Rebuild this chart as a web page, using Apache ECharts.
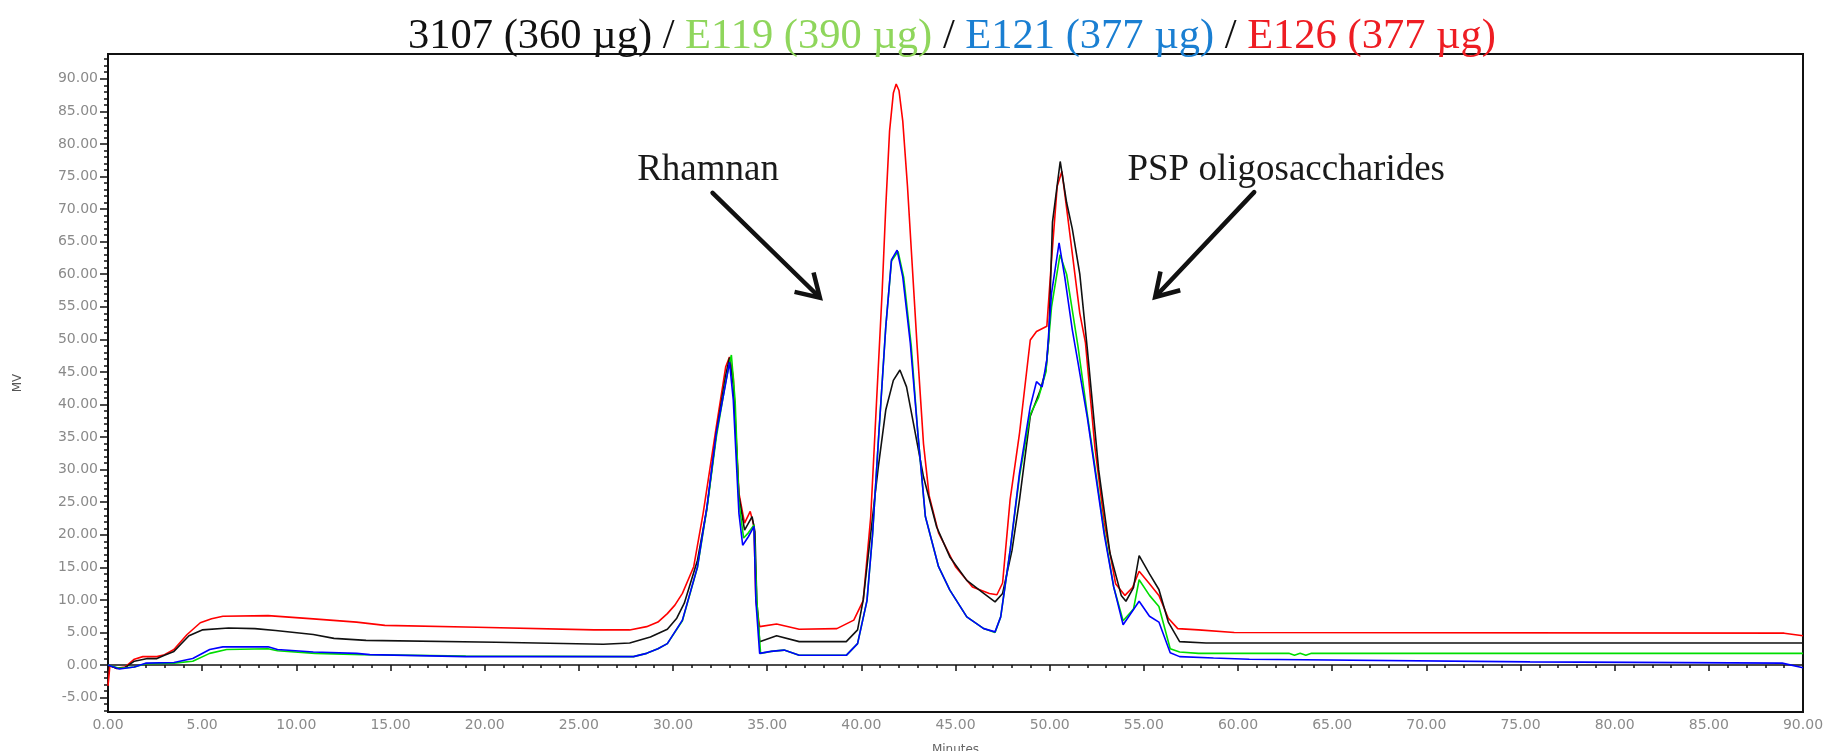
<!DOCTYPE html>
<html>
<head>
<meta charset="utf-8">
<script src="https://cdn.jsdelivr.net/npm/echarts@6/dist/echarts.min.js"></script>
<style>
    html, body { margin: 0; padding: 0; background: #fff; }
    #chart { width: 1829px; height: 751px; }
</style>
</head>
<body>
<div id="chart"></div>
<script>
    // retention time (min) / detector response (mV)
    let t3107 = [0, 0.45, 0.9, 1.4, 2.1, 2.6, 3.0, 3.5, 4.3, 5.0, 6.4, 7.8, 8.9, 10.9, 12.0, 13.7, 20.6, 26.3, 27.7, 28.8, 29.7, 30.2, 30.6, 31.3, 31.8, 32.3, 32.8, 33.0, 33.2, 33.5, 33.8, 34.2, 34.35, 34.45, 34.6, 35.5, 36.7, 39.2, 39.8, 40.1, 40.5, 40.7, 40.9, 41.3, 41.7, 42.05, 42.4, 42.8, 43.3, 44.0, 44.7, 45.6, 46.5, 47.1, 47.5, 48.0, 48.4, 48.97, 49.5, 49.8, 49.95, 50.15, 50.56, 50.9, 51.2, 51.6, 52.0, 52.6, 53.2, 53.8, 54.05, 54.45, 54.75, 55.3, 55.8, 56.3, 56.9, 58.3, 90];
    let v3107 = [0, -0.5, -0.4, 0.6, 1.0, 1.0, 1.5, 2.1, 4.5, 5.4, 5.7, 5.6, 5.3, 4.7, 4.1, 3.8, 3.5, 3.2, 3.4, 4.3, 5.5, 7.2, 9.5, 16.1, 24.0, 35.6, 44.5, 47.2, 43.0, 26.0, 20.7, 22.8, 20.5, 9.9, 3.6, 4.5, 3.6, 3.6, 5.4, 10.0, 20.2, 25.4, 30.4, 39.2, 43.7, 45.3, 42.7, 36.6, 28.9, 21.2, 16.6, 13.0, 11.0, 9.7, 11.0, 17.6, 25.4, 38.2, 42.2, 45.3, 50.0, 68.0, 77.3, 71.0, 67.0, 60.0, 48.5, 30.0, 17.2, 10.7, 9.8, 11.9, 16.8, 14.0, 11.6, 6.6, 3.6, 3.4, 3.4];

    let tE119 = [0, 0.6, 1.4, 2.0, 3.5, 4.5, 5.4, 6.3, 8.5, 9.0, 11.0, 13.5, 19.0, 27.9, 28.6, 29.2, 29.7, 30.5, 31.3, 31.8, 32.3, 32.8, 33.1, 33.3, 33.5, 33.75, 34.0, 34.3, 34.45, 34.65, 35.2, 35.9, 36.7, 39.2, 39.8, 40.3, 40.6, 40.9, 41.3, 41.6, 41.95, 42.25, 42.65, 43.0, 43.4, 44.1, 44.7, 45.6, 46.5, 47.1, 47.4, 47.9, 48.4, 48.97, 49.4, 49.8, 50.1, 50.55, 50.9, 51.5, 52.0, 52.4, 52.9, 53.4, 53.9, 54.45, 54.75, 55.3, 55.8, 56.4, 56.9, 57.9, 62.7, 63.0, 63.3, 63.6, 63.9, 90];
    let vE119 = [0, -0.5, -0.3, 0.2, 0.3, 0.6, 1.8, 2.4, 2.5, 2.2, 1.8, 1.6, 1.4, 1.3, 1.8, 2.5, 3.3, 6.8, 15.0, 24.0, 35.0, 43.5, 47.6, 40.5, 25.0, 19.5, 20.3, 21.5, 9.9, 1.8, 2.1, 2.3, 1.5, 1.5, 3.3, 9.9, 20.2, 34.2, 52.0, 62.0, 63.5, 59.5, 49.0, 35.6, 22.8, 15.1, 11.5, 7.4, 5.6, 5.0, 7.4, 17.6, 29.0, 38.5, 41.0, 45.0, 55.0, 63.0, 60.0, 49.0, 38.5, 30.5, 20.5, 12.0, 6.8, 8.6, 13.1, 10.7, 9.0, 2.5, 2.0, 1.8, 1.8, 1.5, 1.8, 1.5, 1.8, 1.8];

    let tE121 = [0, 0.3, 0.6, 1.4, 2.0, 3.5, 4.5, 5.4, 6.1, 8.5, 9.0, 10.9, 13.2, 13.9, 19.0, 27.9, 28.6, 29.2, 29.7, 30.5, 31.3, 31.8, 32.3, 32.8, 33.0, 33.2, 33.5, 33.7, 34.0, 34.3, 34.4, 34.6, 35.2, 35.9, 36.7, 39.2, 39.8, 40.3, 40.6, 40.9, 41.3, 41.6, 41.9, 42.2, 42.6, 43.0, 43.4, 44.1, 44.7, 45.6, 46.5, 47.1, 47.4, 47.9, 48.4, 48.97, 49.3, 49.6, 49.85, 50.1, 50.5, 50.8, 51.2, 51.5, 52.0, 52.4, 52.9, 53.4, 53.9, 54.75, 55.3, 55.8, 56.4, 56.9, 58.7, 60.6, 75.5, 88.9, 90];
    let vE121 = [0, -0.3, -0.6, -0.3, 0.3, 0.4, 1.0, 2.4, 2.8, 2.8, 2.4, 2.0, 1.8, 1.6, 1.3, 1.3, 1.8, 2.5, 3.3, 6.9, 15.1, 24.3, 35.6, 43.3, 46.5, 40.7, 23.3, 18.4, 19.7, 21.3, 9.9, 1.8, 2.1, 2.3, 1.5, 1.5, 3.3, 9.9, 20.2, 34.2, 52.0, 62.2, 63.7, 59.6, 49.4, 35.6, 22.8, 15.1, 11.5, 7.4, 5.6, 5.1, 7.4, 17.6, 29.5, 39.7, 43.5, 42.7, 46.9, 57.1, 64.8, 59.6, 51.5, 46.5, 38.0, 30.0, 20.0, 12.0, 6.2, 9.8, 7.5, 6.6, 1.9, 1.3, 1.1, 0.9, 0.5, 0.3, -0.4];

    let tE126 = [0, 0.1, 0.45, 0.9, 1.4, 1.85, 2.6, 3.0, 3.5, 4.2, 4.9, 5.5, 6.1, 8.5, 10.9, 13.2, 14.7, 19.6, 25.8, 27.7, 28.6, 29.2, 29.7, 30.1, 30.5, 31.1, 31.6, 32.3, 32.8, 33.0, 33.2, 33.5, 33.8, 34.1, 34.3, 34.4, 34.6, 35.5, 36.7, 38.7, 39.6, 40.1, 40.5, 40.8, 41.1, 41.3, 41.5, 41.7, 41.85, 42.0, 42.2, 42.45, 42.7, 42.95, 43.3, 43.6, 44.1, 45.0, 45.9, 46.8, 47.2, 47.5, 47.9, 48.4, 48.97, 49.3, 49.85, 50.1, 50.4, 50.65, 50.95, 51.6, 51.9, 52.4, 52.9, 53.5, 54.0, 54.4, 54.75, 55.3, 55.8, 56.3, 56.8, 57.9, 59.8, 89.0, 90];
    let vE126 = [-3.2, -0.1, -0.5, -0.3, 0.9, 1.3, 1.3, 1.6, 2.4, 4.7, 6.5, 7.1, 7.5, 7.6, 7.1, 6.6, 6.1, 5.8, 5.4, 5.4, 5.9, 6.6, 7.9, 9.2, 11.0, 15.1, 23.3, 36.6, 45.8, 47.3, 44.3, 26.4, 21.8, 23.6, 21.3, 9.9, 5.9, 6.3, 5.5, 5.6, 6.9, 9.9, 22.8, 40.0, 57.0, 70.5, 82.0, 87.8, 89.2, 88.2, 83.5, 73.5, 61.5, 49.5, 34.0, 26.0, 20.3, 15.1, 12.0, 11.0, 10.8, 12.6, 25.4, 35.6, 49.9, 51.2, 52.0, 62.2, 73.5, 75.8, 69.0, 54.0, 49.5, 33.5, 21.9, 12.5, 10.7, 11.9, 14.4, 12.5, 10.7, 7.2, 5.6, 5.4, 5.0, 4.9, 4.5];

    let yLabelValues = [-5, 0, 5, 10, 15, 20, 25, 30, 35, 40, 45, 50, 55, 60, 65, 70, 75, 80, 85, 90];
    let yMinorValues = [];
    for (let i = -7; i <= 93; i++) yMinorValues.push(i);

    function pairs(t, v) {
        return t.map((x, i) => [x, v[i]]);
    }

    let CHART = echarts.init(document.getElementById('chart'));

    let serif = 'Liberation Serif, Times New Roman, serif';
    let labelFont = 'DejaVu Sans, Verdana, sans-serif';

    function lineSeries(name, color, t, v) {
        return {
            name: name,
            type: 'line',
            showSymbol: false,
            symbol: 'none',
            animation: false,
            lineStyle: { color: color, width: 1.6 },
            data: pairs(t, v)
        };
    }

    function titlePart(color) {
        return { color: color, fontFamily: serif, fontSize: 42.5, fontWeight: 'normal', lineHeight: 48 };
    }

    CHART.setOption({
        animation: false,
        title: {
            left: 403,
            top: 8,
            text: '{k|3107 (360 µg) / }{g|E119 (390 µg)}{k| / }{b|E121 (377 µg)}{k| / }{r|E126 (377 µg)}',
            textStyle: {
                fontWeight: 'normal',
                rich: {
                    k: titlePart('#111'),
                    g: titlePart('#8fd65c'),
                    b: titlePart('#1a7fd2'),
                    r: titlePart('#ee1d23')
                }
            }
        },
        grid: {
            left: 108,
            right: 26,
            top: 54,
            bottom: 39,
            containLabel: false,
            outerBoundsMode: 'none',
            show: true,
            borderColor: '#111',
            borderWidth: 2,
            backgroundColor: '#fff'
        },
        xAxis: {
            type: 'value',
            min: 0,
            max: 90,
            interval: 5,
            name: 'Minutes',
            nameLocation: 'middle',
            nameGap: 32,
            nameTextStyle: { color: '#666', fontFamily: labelFont, fontSize: 12 },
            axisLine: { show: true, lineStyle: { color: '#111', width: 1.5 } },
            axisTick: { show: true, length: 6, lineStyle: { color: '#111', width: 1.5 } },
            minorTick: { show: true, splitNumber: 5, length: 3, lineStyle: { color: '#111', width: 1.5 } },
            axisLabel: {
                color: '#8a8a8a',
                fontFamily: labelFont,
                fontSize: 14,
                margin: 6,
                formatter: (v) => v.toFixed(2)
            },
            splitLine: { show: false }
        },
        yAxis: [
            {
                type: 'value',
                min: -7.2,
                max: 93.8,
                name: 'MV',
                nameLocation: 'middle',
                nameGap: 84,
                nameRotate: 90,
                nameTextStyle: { color: '#555', fontFamily: labelFont, fontSize: 12 },
                axisLine: { show: true, lineStyle: { color: '#111', width: 1.5 } },
                axisTick: { show: true, length: 8, customValues: yLabelValues, lineStyle: { color: '#111', width: 1.5 } },
                axisLabel: {
                    color: '#8a8a8a',
                    fontFamily: labelFont,
                    fontSize: 14,
                    margin: 10,
                    customValues: yLabelValues,
                    formatter: (v) => v.toFixed(2)
                },
                splitLine: { show: false }
            },
            {
                type: 'value',
                min: -7.2,
                max: 93.8,
                position: 'left',
                axisLine: { show: false },
                axisTick: { show: true, length: 4, customValues: yMinorValues, lineStyle: { color: '#111', width: 1.5 } },
                axisLabel: { show: false },
                splitLine: { show: false }
            }
        ],
        series: [
            lineSeries('E126', '#ff0000', tE126, vE126),
            lineSeries('3107', '#111111', t3107, v3107),
            lineSeries('E119', '#00dd00', tE119, vE119),
            lineSeries('E121', '#0000ff', tE121, vE121)
        ]
    });

    // annotations, anchored in data space so they follow the axes
    let notes = [
        { text: 'Rhamnan', at: [31.86, 76.0], from: [32.1, 72.5], to: [37.8, 56.4] },
        { text: 'PSP oligosaccharides', at: [62.56, 76.0], from: [60.86, 72.6], to: [55.6, 56.5] }
    ];

    function arrow(p0, p1) {
        let dx = p1[0] - p0[0], dy = p1[1] - p0[1];
        let len = Math.sqrt(dx * dx + dy * dy);
        let ux = dx / len, uy = dy / len;
        let head = 26, ang = 0.55;
        let c = Math.cos(ang), s = Math.sin(ang);
        let a1 = [p1[0] - head * (ux * c - uy * s), p1[1] - head * (uy * c + ux * s)];
        let a2 = [p1[0] - head * (ux * c + uy * s), p1[1] - head * (uy * c - ux * s)];
        return [
            { type: 'line', shape: { x1: p0[0], y1: p0[1], x2: p1[0] - ux * 2, y2: p1[1] - uy * 2 }, style: { stroke: '#111', lineWidth: 4.5, lineCap: 'round' } },
            { type: 'polyline', shape: { points: [a1, p1, a2] }, style: { stroke: '#111', lineWidth: 4.5, lineJoin: 'miter', fill: null } }
        ];
    }

    let graphics = [];
    notes.forEach((n) => {
        let pt = CHART.convertToPixel({ gridIndex: 0 }, n.at);
        graphics.push({
            type: 'text',
            x: pt[0],
            y: pt[1],
            style: {
                text: n.text,
                fill: '#1a1a1a',
                font: '37px ' + serif,
                align: 'center',
                verticalAlign: 'middle'
            }
        });
        let p0 = CHART.convertToPixel({ gridIndex: 0 }, n.from);
        let p1 = CHART.convertToPixel({ gridIndex: 0 }, n.to);
        graphics = graphics.concat(arrow(p0, p1));
    });
    CHART.setOption({ graphic: graphics });
</script>
</body>
</html>
